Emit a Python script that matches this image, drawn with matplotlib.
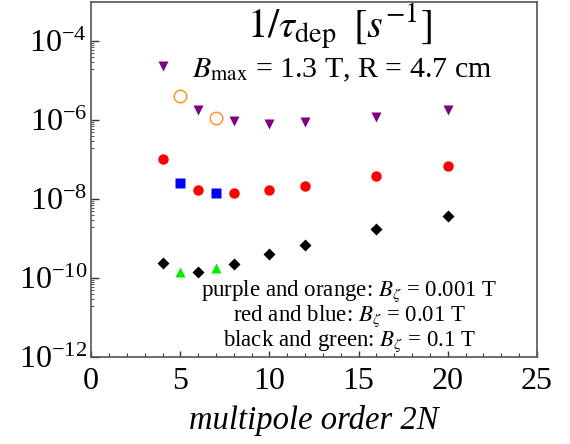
import matplotlib
matplotlib.use("Agg")
import matplotlib.pyplot as plt
import numpy as np
from matplotlib.ticker import MultipleLocator, FixedLocator, LogFormatterMathtext

plt.rcParams['font.family'] = ['Liberation Serif', 'DejaVu Serif']
plt.rcParams['mathtext.fontset'] = 'stix'

# purple (B_zeta = 0.001 T)
x_purple = [4, 6, 8, 10, 12, 16, 20]
y_purple = [2.3e-5, 1.85e-6, 9.4e-7, 8.2e-7, 8.9e-7, 1.2e-6, 1.8e-6]
# orange (B_zeta = 0.001 T)
x_orange = [5, 7]
y_orange = [4.2e-6, 1.15e-6]
# red (B_zeta = 0.01 T)
x_red = [4, 6, 8, 10, 12, 16, 20]
y_red = [1.04e-7, 1.7e-8, 1.43e-8, 1.66e-8, 2.14e-8, 3.8e-8, 6.9e-8]
# blue (B_zeta = 0.01 T)
x_blue = [5, 7]
y_blue = [2.6e-8, 1.4e-8]
# black (B_zeta = 0.1 T)
x_black = [4, 6, 8, 10, 12, 16, 20]
y_black = [2.4e-10, 1.46e-10, 2.33e-10, 4.1e-10, 6.8e-10, 1.73e-9, 3.8e-9]
# green (B_zeta = 0.1 T)
x_green = [5, 7]
y_green = [1.4e-10, 1.8e-10]

notes = [r"purple and orange: $B_\zeta$ = 0.001 T",
         r"red and blue: $B_\zeta$ = 0.01 T",
         r"black and green: $B_\zeta$ = 0.1 T"]

fig = plt.figure(figsize=(5.7, 4.44), dpi=100)
ax = fig.add_axes([0.160, 0.196, 0.782, 0.800])

ax.plot(x_purple, y_purple, 'v', color='#800080', ms=7.5, mec='none')
ax.plot(x_orange, y_orange, 'o', mfc='none', mec='#ff8c1a', ms=9, mew=1.0)
ax.plot(x_red, y_red, 'o', color='#ff0000', ms=7.5, mec='none')
ax.plot(x_blue, y_blue, 's', color='#0000ff', ms=7, mec='none')
ax.plot(x_black, y_black, 'D', color='black', ms=6.5, mec='none')
ax.plot(x_green, y_green, '^', color='#00ee00', ms=7.5, mec='none')

ax.set_yscale('log')
ax.set_xlim(0, 25)
ax.set_ylim(1e-12, 1e-3)

ax.xaxis.set_major_locator(MultipleLocator(5))
ax.xaxis.set_minor_locator(MultipleLocator(1))
ax.yaxis.set_major_locator(FixedLocator([1e-12, 1e-10, 1e-8, 1e-6, 1e-4]))
ax.yaxis.set_major_formatter(LogFormatterMathtext())
ax.yaxis.set_minor_locator(FixedLocator([k * 10.0**e for e in (-5, -7, -9, -11) for k in range(2, 10)]))
ax.yaxis.set_minor_formatter(plt.NullFormatter())

ax.tick_params(axis='both', which='both', direction='in', colors='#333333', labelcolor='black',
               labelsize=23, top=False, right=False)
ax.tick_params(axis='x', which='major', length=4, width=1, pad=7)
ax.tick_params(axis='x', which='minor', length=3, width=0.8)
ax.tick_params(axis='y', which='major', length=6, width=1, pad=3)
ax.tick_params(axis='y', which='minor', length=2.5, width=0.6)
for s in ax.spines.values():
    s.set_color('#555555')
    s.set_linewidth(1.2)

ax.text(0.557, 0.898, r"$1/\tau_{\mathrm{dep}}\;\;[s^{-1}]$", transform=ax.transAxes,
        ha='center', va='baseline', fontsize=29)
ax.text(0.562, 0.786, r"$B_{\mathrm{max}}$ = 1.3 T, R = 4.7 cm", transform=ax.transAxes,
        ha='center', va='baseline', fontsize=21.5)
for note, yy in zip(notes, [0.172, 0.101, 0.030]):
    ax.text(0.579, yy, note, transform=ax.transAxes, ha='center', va='baseline', fontsize=16.5)

ax.set_xlabel("multipole order 2N", fontsize=23.5, fontstyle='italic', labelpad=7)

fig.savefig("out.png", dpi=100)
